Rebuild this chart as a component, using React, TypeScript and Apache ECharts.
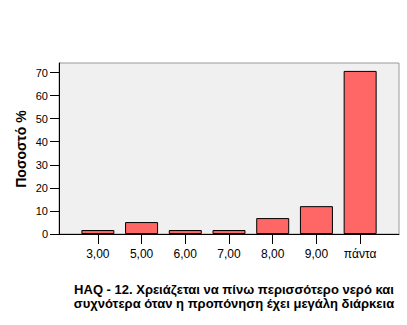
import React, { useEffect, useRef } from "react";
import * as echarts from "echarts";

const categories = ["3,00", "5,00", "6,00", "7,00", "8,00", "9,00", "πάντα"];
const percents = [1.72, 5.17, 1.72, 1.72, 6.9, 12.07, 70.69];
const yTicks = [0, 10, 20, 30, 40, 50, 60, 70];
const yAxisTitle = "Ποσοστό %";
const chartTitle = "HAQ - 12. Χρειάζεται να πίνω περισσότερο νερό και\nσυχνότερα όταν η προπόνηση έχει μεγάλη διάρκεια";

const FONT = "Arial, 'Liberation Sans', sans-serif";

export default function App() {
  const ref = useRef<HTMLDivElement>(null);
  useEffect(() => {
    document.body.style.margin = "0";
    const chart = echarts.init(ref.current!, null, { renderer: "svg" });
    const yMax = yTicks[yTicks.length - 1];
    chart.setOption({
      animation: false,
      textStyle: { fontFamily: FONT },
      grid: [
        { left: 59, right: 8, top: 63, bottom: 91, show: true, backgroundColor: "#f0f0f0", borderColor: "#9a9a9a", borderWidth: 1 },
        { left: 59, right: 8, top: 72.5, bottom: 91 },
        { left: 76, right: 25, top: 72.5, bottom: 91 },
      ],
      title: {
        text: chartTitle,
        left: 229,
        top: 277,
        textAlign: "center",
        textStyle: { fontFamily: FONT, fontSize: 13, fontWeight: "bold", color: "#000", lineHeight: 14.5 },
      },
      graphic: [
        {
          type: "text",
          x: 21,
          y: 149,
          rotation: Math.PI / 2,
          style: { text: yAxisTitle, font: `bold 14px ${FONT}`, fill: "#000", align: "center", verticalAlign: "middle" },
        },
      ],
      xAxis: [
        { gridIndex: 0, type: "value", min: 0, max: 1, axisLine: { show: true, lineStyle: { color: "#000", width: 1 } }, axisTick: { show: false }, axisLabel: { show: false }, splitLine: { show: false } },
        { gridIndex: 1, type: "value", min: 0, max: 1, show: false },
        {
          gridIndex: 2,
          type: "category",
          data: categories,
          axisLine: { show: false },
          axisTick: { show: true, alignWithLabel: true, length: 10, lineStyle: { color: "#000" } },
          axisLabel: { fontSize: 12, color: "#000", margin: 14, fontFamily: FONT },
        },
      ],
      yAxis: [
        { gridIndex: 0, type: "value", min: 0, max: 1, axisLine: { show: true, lineStyle: { color: "#000", width: 1 } }, axisTick: { show: false }, axisLabel: { show: false }, splitLine: { show: false } },
        {
          gridIndex: 1,
          type: "value",
          min: 0,
          max: yMax,
          interval: 10,
          axisLine: { show: true, lineStyle: { color: "#000", width: 1 } },
          axisTick: { show: true, length: 9, lineStyle: { color: "#000", width: 1 } },
          axisLabel: { fontSize: 11, color: "#000", margin: 11, fontFamily: FONT },
          splitLine: { show: false },
        },
        { gridIndex: 2, type: "value", min: 0, max: yMax, show: false },
      ],
      series: [
        {
          type: "bar",
          xAxisIndex: 2,
          yAxisIndex: 2,
          data: percents,
          barWidth: 33,
          clip: false,
          itemStyle: { color: "#ff6666", borderColor: "#000", borderWidth: 1 },
        },
      ],
    });
    return () => chart.dispose();
  }, []);
  return <div ref={ref} style={{ width: 407, height: 325, position: "absolute", left: 0, top: 0 }} />;
}
